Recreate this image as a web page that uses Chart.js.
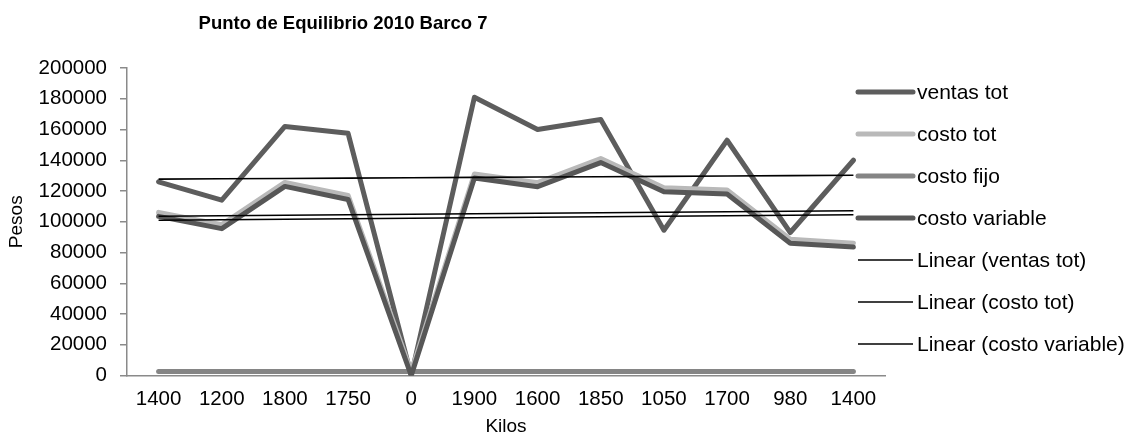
<!DOCTYPE html>
<html>
<head>
<meta charset="utf-8">
<script src="https://cdn.jsdelivr.net/npm/chart.js@4.4.1/dist/chart.umd.min.js"></script>
<style>
  html, body { margin: 0; padding: 0; background: #ffffff; }
  #wrap { width: 1130px; height: 441px; position: relative; }
</style>
</head>
<body>
<div id="wrap"><canvas id="chart" width="1130" height="441"></canvas></div>
<script>
// Categories (kilos per trip) and the four cost / sales series, in pesos
const kilos = ['1400', '1200', '1800', '1750', '0', '1900', '1600', '1850', '1050', '1700', '980', '1400'];
const ventasTot     = [126000, 114000, 162000, 157500, 0, 181000, 160000, 166500, 94500, 153000, 93000, 140000];
const costoTot      = [106100, 98100, 125600, 117100, 2600, 131100, 125400, 141100, 122100, 120600, 88600, 86100];
const costoFijo     = [2600, 2600, 2600, 2600, 2600, 2600, 2600, 2600, 2600, 2600, 2600, 2600];
const costoVariable = [103500, 95500, 123000, 114500, 0, 128500, 122800, 138500, 119500, 118000, 86000, 83500];

const yMin = 0, yMax = 200000, yStep = 20000;
const chartTitle = 'Punto de Equilibrio 2010 Barco 7';
const xTitle = 'Kilos';
const yTitle = 'Pesos';

const FONT = "'Liberation Sans', Arial, Helvetica, sans-serif";

// Least-squares straight line through a series (category index as x)
function linearTrend(values) {
  const n = values.length;
  let sx = 0, sy = 0, sxy = 0, sxx = 0;
  values.forEach((v, i) => {
    const x = i + 1;
    sx += x; sy += v; sxy += x * v; sxx += x * x;
  });
  const slope = (n * sxy - sx * sy) / (n * sxx - sx * sx);
  const icpt = (sy - slope * sx) / n;
  return values.map((_, i) => icpt + slope * (i + 1));
}

const thick = (label, data, color, order) => ({
  label, data, order,
  borderColor: color,
  backgroundColor: color,
  borderWidth: 5,
  borderCapStyle: 'round',
  borderJoinStyle: 'round',
  pointRadius: 0,
  pointHoverRadius: 0,
  tension: 0,
  fill: false
});

const trend = (label, data, order) => ({
  label, data, order,
  borderColor: '#000000',
  backgroundColor: '#000000',
  borderWidth: 1.6,
  pointRadius: 0,
  pointHoverRadius: 0,
  tension: 0,
  fill: false
});

const datasets = [
  thick('ventas tot', ventasTot, '#5d5d5d', 6),
  thick('costo tot', costoTot, '#b9b9b9', 5),
  thick('costo fijo', costoFijo, '#858585', 4),
  thick('costo variable', costoVariable, '#575757', 3),
  trend('Linear (ventas tot)', linearTrend(ventasTot), 2),
  trend('Linear (costo tot)', linearTrend(costoTot), 1),
  trend('Linear (costo variable)', linearTrend(costoVariable), 0)
];

// Chart title and the legend column at the right
const decorations = {
  id: 'decorations',
  afterDraw(chart) {
    const ctx = chart.ctx;
    ctx.save();
    ctx.fillStyle = '#000000';
    ctx.font = 'bold 18.5px ' + FONT;
    ctx.textAlign = 'center';
    ctx.textBaseline = 'middle';
    ctx.fillText(chartTitle, 343, 24);

    const lineX0 = 858, lineX1 = 913, textX = 917, rowY0 = 92, rowGap = 42;
    ctx.font = '21px ' + FONT;
    ctx.textAlign = 'left';
    chart.data.datasets.forEach((ds, i) => {
      const y = rowY0 + i * rowGap;
      ctx.beginPath();
      ctx.strokeStyle = ds.borderColor;
      ctx.lineWidth = ds.borderWidth;
      ctx.lineCap = ds.borderWidth > 2 ? 'round' : 'butt';
      ctx.moveTo(lineX0, y);
      ctx.lineTo(lineX1, y);
      ctx.stroke();
      ctx.fillStyle = '#000000';
      ctx.fillText(ds.label, textX, y + 1);
    });
    ctx.restore();
  }
};

new Chart(document.getElementById('chart'), {
  type: 'line',
  data: { labels: kilos, datasets },
  plugins: [decorations],
  options: {
    responsive: false,
    animation: false,
    devicePixelRatio: 1,
    layout: { padding: { top: 68, right: 245, left: 0, bottom: 0 } },
    plugins: {
      legend: { display: false },
      title: { display: false },
      tooltip: { enabled: false }
    },
    scales: {
      x: {
        offset: true,
        grid: { display: false, drawTicks: false },
        border: { display: true, color: '#8a8a8a', width: 1.5 },
        ticks: { color: '#000000', font: { family: FONT, size: 20.5 }, padding: 12, maxRotation: 0, autoSkip: false },
        title: { display: true, text: xTitle, color: '#000000', font: { family: FONT, size: 19 }, padding: { top: 0, bottom: 3 } },
        afterFit: (scale) => { scale.height = 65.5; }
      },
      y: {
        min: yMin,
        max: yMax,
        ticks: {
          stepSize: yStep,
          color: '#000000',
          font: { family: FONT, size: 20.5 },
          padding: 13,
          callback: (v) => String(v)
        },
        grid: { drawOnChartArea: false, drawTicks: true, tickLength: 7, color: '#8a8a8a', lineWidth: 1.5 },
        border: { display: true, color: '#8a8a8a', width: 1.5 },
        title: { display: true, text: yTitle, color: '#000000', font: { family: FONT, size: 19 }, padding: { top: 5, bottom: 0 } },
        afterFit: (scale) => { scale.width = 127; }
      }
    }
  }
});
</script>
</body>
</html>
